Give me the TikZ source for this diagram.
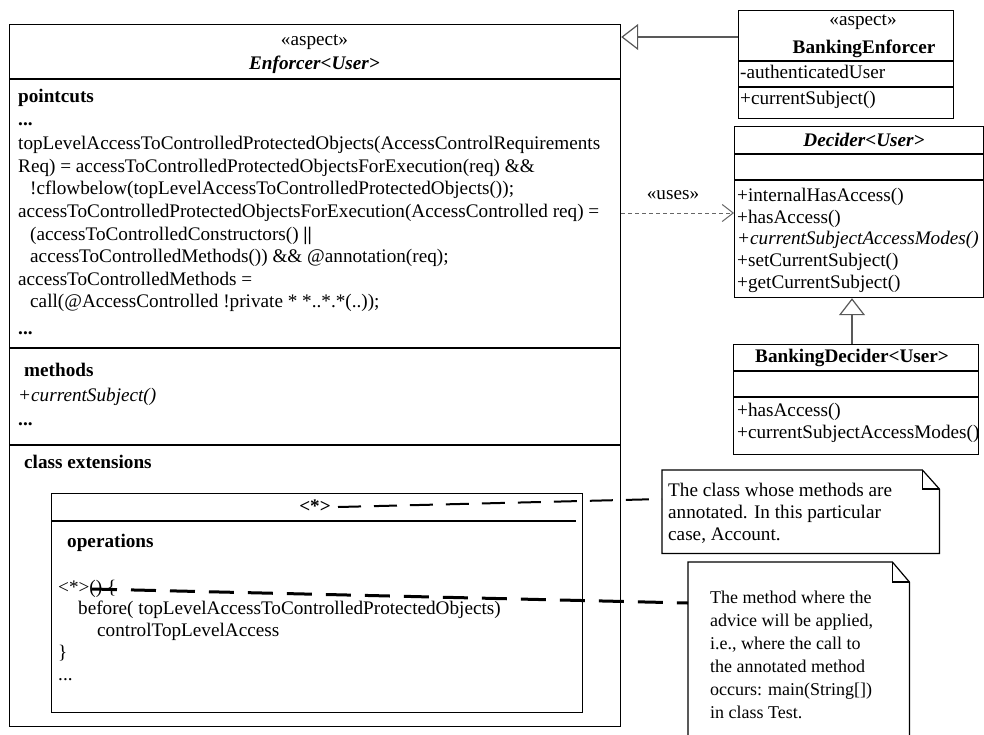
\documentclass[tikz,border=0pt]{standalone}
\usepackage{fontspec}
\setmainfont{Liberation Serif}
\usetikzlibrary{arrows.meta}

\newcommand\diagfont{\fontsize{19.2}{22.6}\selectfont}
\newcommand\notefont{\fontsize{18}{22.6}\selectfont}

\tikzset{
  txt/.style={anchor=west, inner sep=0pt, text height=13.3pt, text depth=4.1pt, font=\diagfont},
  ctxt/.style={txt, anchor=center},
  ntxt/.style={txt, font=\notefont},
  umlbox/.style={draw=black, line width=1.2pt, anchor=north west, inner sep=0pt},
  thinsep/.style={line width=1.2pt},
  thicksep/.style={line width=2.6pt},
  notearea/.style={anchor=north west, inner sep=0pt},
  noteline/.style={draw=black, line width=1.2pt, line join=miter},
  gen/.style={draw=black!65, line width=1.2pt, -{Triangle[length=17pt, width=26pt, fill=white, line width=1.2pt]}},
  dep/.style={draw=black!60, line width=1pt, dash pattern=on 4pt off 3pt,
              -{Straight Barb[length=11pt, width=17pt, line width=1pt]}},
  annoA/.style={draw=black, line width=2pt, dash pattern=on 23pt off 13pt},
  annoB/.style={draw=black, line width=3pt, dash pattern=on 25pt off 14pt},
}

\begin{document}
\begin{tikzpicture}[x=1pt, y=-1pt]
\useasboundingbox[fill=white] (0,0) rectangle (984,734);

% ---------------- aspect Enforcer<User> ----------------
\node[umlbox, minimum width=611pt, minimum height=702pt] (enf) at (9,24) {};
\draw[thicksep] (9,79) -- (620,79);
\draw[thicksep] (9,348) -- (620,348);
\draw[thicksep] (9,445) -- (620,445);

\node[ctxt] (enfst) at (314.5,41) {«aspect»};
\node[ctxt] (enfname) at (314.5,65) {\bfseries\itshape Enforcer<User>};

\node[txt] (pchead) at (18,98) {\bfseries pointcuts};
\node[txt] (pcdots) at (18,121) {\bfseries ...};
\node[txt] (pc1) at (18,145) {topLevelAccessToControlledProtectedObjects(AccessControlRequirements};
\node[txt] (pc2) at (18,167.6) {Req) = accessToControlledProtectedObjectsForExecution(req) \&\&};
\node[txt] (pc3) at (30,190.2) {!cflowbelow(topLevelAccessToControlledProtectedObjects());};
\node[txt] (pc4) at (18,212.8) {accessToControlledProtectedObjectsForExecution(AccessControlled req) =};
\node[txt] (pc5) at (30,235.4) {(accessToControlledConstructors() \textbf{||}};
\node[txt] (pc6) at (30,258) {accessToControlledMethods()) \&\& @annotation(req);};
\node[txt] (pc7) at (18,280.6) {accessToControlledMethods =};
\node[txt] (pc8) at (30,303.2) {call(@AccessControlled !private * *..*.*(..));};
\node[txt] (pcend) at (18,330) {\bfseries ...};

\node[txt] (mhead) at (24,372) {\bfseries methods};
\node[txt] (m1) at (18,397) {\itshape +currentSubject()};
\node[txt] (mend) at (18,421) {\bfseries ...};

\node[txt] (cxhead) at (24,464) {\bfseries class extensions};

% inner class extension box
\node[umlbox, minimum width=531pt, minimum height=219pt] (ext) at (51,493) {};
\draw[line width=2pt] (51,521) -- (576,521);
\node[ctxt] (extname) at (315,508) {\bfseries <*>};
\node[txt] (ophead) at (67,543) {\bfseries operations};
\node[txt] (op1) at (58,589) {<*>() \{};
\node[txt] (op2) at (78,610) {before( topLevelAccessToControlledProtectedObjects)};
\node[txt] (op3) at (97,632) {controlTopLevelAccess};
\node[txt] (op4) at (58,654) {\}};
\node[txt] (op5) at (58,676) {...};

% ---------------- aspect BankingEnforcer ----------------
\node[umlbox, minimum width=215pt, minimum height=108pt] (be) at (738,10) {};
\draw[thinsep] (738,61) -- (953,61);
\draw[thinsep] (738,87) -- (953,87);
\node[ctxt] (best) at (863,21) {«aspect»};
\node[ctxt] (bename) at (864,49) {\bfseries BankingEnforcer};
\node[txt] (bea) at (740,74) {-authenticatedUser};
\node[txt] (bem) at (740,100) {+currentSubject()};

% ---------------- Decider<User> ----------------
\node[umlbox, minimum width=249pt, minimum height=171pt] (dec) at (734,126) {};
\draw[thinsep] (734,154) -- (983,154);
\draw[thinsep] (734,180) -- (983,180);
\node[ctxt] (decname) at (864,142) {\bfseries\itshape Decider<User>};
\node[txt] (dm1) at (737,197) {+internalHasAccess()};
\node[txt] (dm2) at (737,218.5) {+hasAccess()};
\node[txt] (dm3) at (737,240) {\itshape +currentSubjectAccessModes()};
\node[txt] (dm4) at (737,262) {+setCurrentSubject()};
\node[txt] (dm5) at (737,284) {+getCurrentSubject()};

% ---------------- BankingDecider<User> ----------------
\node[umlbox, minimum width=245pt, minimum height=110pt] (bd) at (733,344) {};
\draw[thinsep] (733,371) -- (978,371);
\draw[thinsep] (733,397) -- (978,397);
\node[ctxt] (bdname) at (852,358) {\bfseries BankingDecider<User>};
\node[txt] (bdm1) at (737,412) {+hasAccess()};
\node[txt] (bdm2) at (737,434) {+currentSubjectAccessModes()};

% ---------------- notes ----------------
\node[notearea, minimum width=277pt, minimum height=83pt] (n1) at (662,470) {};
\draw[noteline] (n1.north west) -- ([xshift=-17pt]n1.north east) -- ([yshift=-19pt]n1.north east)
  -- (n1.south east) -- (n1.south west) -- cycle;
\draw[noteline] ([xshift=-17pt]n1.north east) -- ([xshift=-17pt,yshift=-19pt]n1.north east)
  -- ([yshift=-19pt]n1.north east);
\node[txt] (n1a) at (668,492) {The class whose methods are};
\node[txt] (n1b) at (668,514) {annotated. In this particular};
\node[txt] (n1c) at (668,536) {case, Account.};

\node[notearea, minimum width=221pt, minimum height=190pt] (n2) at (688,562) {};
\draw[noteline] (n2.north west) -- ([xshift=-17pt]n2.north east) -- ([yshift=-20pt]n2.north east)
  -- (n2.south east) -- (n2.south west) -- cycle;
\draw[noteline] ([xshift=-17pt]n2.north east) -- ([xshift=-17pt,yshift=-20pt]n2.north east)
  -- ([yshift=-20pt]n2.north east);
\node[ntxt] (n2a) at (710,599) {The method where the};
\node[ntxt] (n2b) at (710,622) {advice will be applied,};
\node[ntxt] (n2c) at (710,645) {i.e., where the call to};
\node[ntxt] (n2d) at (710,668) {the annotated method};
\node[ntxt] (n2e) at (710,691) {occurs: main(String[])};
\node[ntxt] (n2f) at (710,714) {in class Test.};

% ---------------- connectors ----------------
\coordinate (g1) at (0,37);
\draw[gen] (be.west |- g1) -- (enf.east |- g1);

\coordinate (gx) at (852,0);
\draw[gen] (gx |- bd.north) -- (gx |- dec.south);

\coordinate (u1) at (0,213);
\draw[dep] (enf.east |- u1) -- (dec.west |- u1);
\node[ctxt] (uses) at (673,195) {«uses»};

\coordinate (a1s) at (338,507);
\coordinate (a1e) at (0,499);
\draw[annoA] (a1s) -- (n1.west |- a1e);

\coordinate (a2s) at (92,589);
\coordinate (a2e) at (0,603);
\draw[annoB] (a2s) -- (n2.west |- a2e);
\end{tikzpicture}
\end{document}
